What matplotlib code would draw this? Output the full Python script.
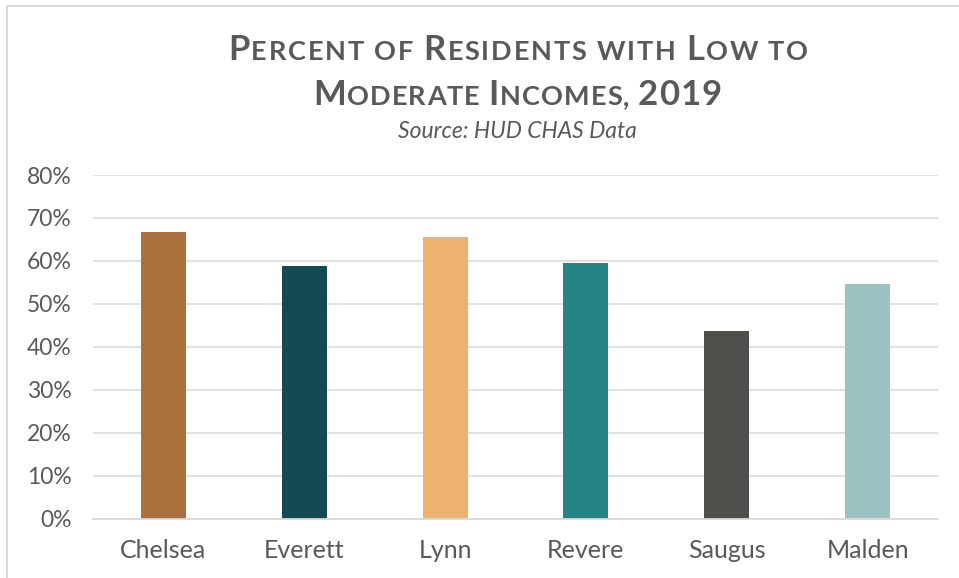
import matplotlib
matplotlib.use("Agg")
import matplotlib.pyplot as plt
from matplotlib.lines import Line2D

cities = ['Chelsea', 'Everett', 'Lynn', 'Revere', 'Saugus', 'Malden']
values = [66.7, 58.7, 65.5, 59.4, 43.7, 54.7]
bar_colors = ['#AB703D', '#124A56', '#EEB270', '#268487', '#4E4F4A', '#9CC2C1']
y_ticks = [0, 10, 20, 30, 40, 50, 60, 70, 80]
y_labels = [f"{t}%" for t in y_ticks]

title_lines = ["Percent of Residents with Low to", "Moderate Incomes, 2019"]
subtitle = "Source: HUD CHAS Data"

W, H = 959, 578
fig = plt.figure(figsize=(W / 100, H / 100), dpi=100)
fig.patch.set_facecolor('white')

GRAY = '#595959'
GRID = '#D9D9D9'
FONT = 'Lato'

ax = fig.add_axes([93 / W, (H - 518.5) / H, (938 - 93) / W, (518.5 - 175) / H])
x = list(range(len(cities)))
ax.bar(x, values, width=0.32, color=bar_colors, zorder=3)
ax.set_xlim(-0.5, len(cities) - 0.5)
ax.set_ylim(0, 80)
ax.set_yticks(y_ticks)
ax.set_yticklabels(y_labels, fontsize=16.5, color=GRAY, family=FONT)
ax.set_xticks(x)
ax.set_xticklabels(cities, fontsize=18, color=GRAY, family=FONT)
ax.tick_params(axis='both', length=0)
ax.tick_params(axis='y', pad=15.5)
ax.tick_params(axis='x', pad=15)
for s in ['top', 'right', 'left']:
    ax.spines[s].set_visible(False)
ax.spines['bottom'].set_color(GRID)
ax.spines['bottom'].set_linewidth(1.3)
ax.spines['bottom'].set_zorder(4)
ax.yaxis.grid(True, color=GRID, linewidth=1.1, zorder=0)
ax.set_axisbelow(True)

# chart border (top and left)
fig.add_artist(Line2D([6.5 / W, 1.0], [1 - 5.5 / H, 1 - 5.5 / H], color=GRID, lw=1.3, transform=fig.transFigure))
fig.add_artist(Line2D([7 / W, 7 / W], [0, 1 - 5.5 / H], color=GRID, lw=1.3, transform=fig.transFigure))

# small caps title
renderer = fig.canvas.get_renderer()
BIG, SMALL = 25, 19.5


def width_of(s, size):
    t = fig.text(0, 0, s, fontsize=size, family=FONT, fontweight='bold')
    w = t.get_window_extent(renderer).width
    t.remove()
    return w


def advance(ch, size):
    return width_of('|' + ch + '|', size) - width_of('||', size)


def chars_for(line):
    out = []
    words = line.split(' ')
    for i, wd in enumerate(words):
        if i > 0:
            out.append((' ', SMALL))
        for j, ch in enumerate(wd):
            if ch.isdigit() or (j == 0 and ch.isupper()):
                out.append((ch, BIG))
            elif ch.isalpha():
                out.append((ch.upper(), SMALL))
            else:
                out.append((ch, SMALL))
    return out


def draw_line(line, left_px, right_px, baseline_px):
    chars = chars_for(line)
    advs = [advance(c, s) for c, s in chars]
    last_ink = width_of(chars[-1][0], chars[-1][1])
    natural = sum(advs[:-1]) + last_ink
    track = (right_px - left_px - natural) / (len(chars) - 1)
    xpos = left_px
    for (c, s), a in zip(chars, advs):
        if c != ' ':
            fig.text(xpos / W, 1 - baseline_px / H, c, fontsize=s, family=FONT,
                     fontweight='bold', color=GRAY, ha='left', va='baseline')
        xpos += a + track


draw_line(title_lines[0], 228, 808, 60)
draw_line(title_lines[1], 313, 722, 105)
fig.text(517 / W, 1 - 138 / H, subtitle, fontsize=16.5, family=FONT, style='italic',
         color=GRAY, ha='center', va='baseline')

fig.savefig('out.png', dpi=100, facecolor='white')
